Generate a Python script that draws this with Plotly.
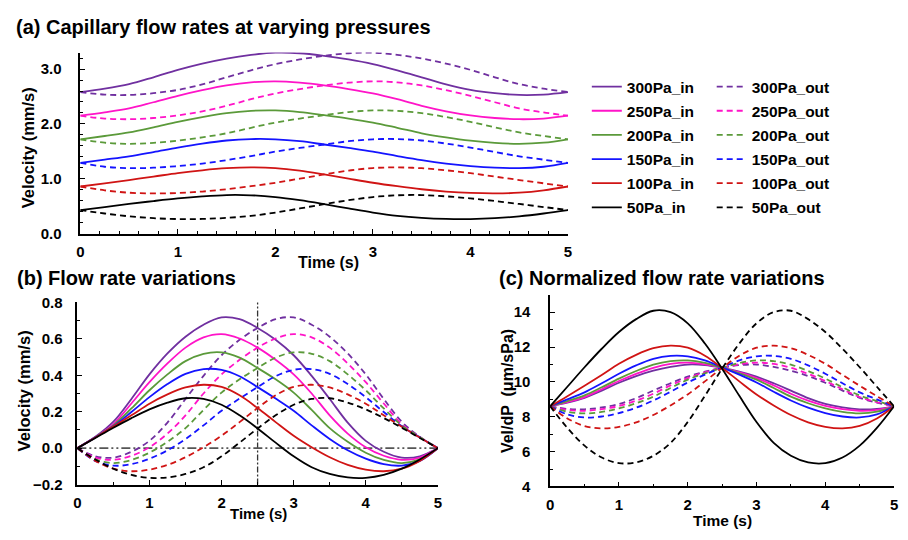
import plotly.graph_objects as go

# ---------------- data ----------------
T = [0, 0.25, 0.5, 0.75, 1, 1.25, 1.5, 1.75, 2, 2.25, 2.5,
     2.75, 3, 3.25, 3.5, 3.75, 4, 4.25, 4.5, 4.75, 5]

LABELS = ["300Pa", "250Pa", "200Pa", "150Pa", "100Pa", "50Pa"]
PRESSURE_PA = [300, 250, 200, 150, 100, 50]
BASE_VEL = [2.58, 2.15, 1.72, 1.29, 0.86, 0.43]   # mm/s at t=0

# flow-rate variation (panel b), inlet (mm/s)
VAR_IN_300 = [0, .062, .145, .27, .405, .52, .612, .678, .718, .708, .66, .595, .51, .397, .27, .14, .04, -.02, -.052, -.045, 0]
VAR_IN_250 = [0, .06, .132, .245, .362, .465, .552, .608, .626, .602, .552, .485, .405, .30, .18, .08, .005, -.042, -.064, -.052, 0]
VAR_IN_200 = [0, .06, .125, .218, .318, .405, .478, .518, .526, .497, .44, .378, .305, .21, .11, .035, -.025, -.065, -.082, -.062, 0]
VAR_IN_150 = [0, .059, .12, .198, .28, .352, .408, .434, .43, .395, .335, .272, .205, .125, .05, -.012, -.058, -.088, -.096, -.07, 0]
VAR_IN_100 = [0, .058, .118, .18, .244, .295, .333, .348, .336, .29, .22, .143, .068, .005, -.05, -.092, -.118, -.127, -.113, -.07, 0]
VAR_IN_50 = [0, .056, .112, .165, .213, .25, .274, .27, .238, .18, .108, .03, -.045, -.105, -.142, -.161, -.163, -.147, -.113, -.062, 0]

# flow-rate variation (panel b), outlet (mm/s)
VAR_OUT_300 = [0, -.045, -.052, -.02, .04, .14, .27, .397, .51, .595, .66, .708, .718, .678, .612, .52, .405, .27, .145, .062, 0]
VAR_OUT_250 = [0, -.052, -.064, -.042, .005, .08, .18, .30, .405, .485, .552, .602, .626, .608, .552, .465, .362, .245, .132, .06, 0]
VAR_OUT_200 = [0, -.062, -.082, -.065, -.025, .035, .11, .21, .305, .378, .44, .497, .526, .518, .478, .405, .318, .218, .125, .06, 0]
VAR_OUT_150 = [0, -.07, -.096, -.088, -.058, -.012, .05, .125, .205, .272, .335, .395, .43, .434, .408, .352, .28, .198, .12, .059, 0]
VAR_OUT_100 = [0, -.07, -.113, -.127, -.118, -.092, -.05, .005, .068, .143, .22, .29, .336, .348, .333, .295, .244, .18, .118, .058, 0]
VAR_OUT_50 = [0, -.062, -.113, -.147, -.163, -.161, -.142, -.105, -.045, .03, .108, .18, .238, .27, .274, .25, .213, .165, .112, .056, 0]

VAR_IN = [VAR_IN_300, VAR_IN_250, VAR_IN_200, VAR_IN_150, VAR_IN_100, VAR_IN_50]
VAR_OUT = [VAR_OUT_300, VAR_OUT_250, VAR_OUT_200, VAR_OUT_150, VAR_OUT_100, VAR_OUT_50]

REF_T = 2.5      # vertical reference line in (b)
REF_V = 0.0      # horizontal reference line in (b)

# ---------------- style ----------------
COLORS = ["#7030A0", "#FF14C8", "#5B9A3A", "#1414FF", "#D01414", "#000000"]
FONT = "Liberation Sans"
W, H = 908, 540
LW = 1.8
DASH = "6px,4px"


def fx(px):
    return px / W


def fy(py):
    return 1 - py / H


fig = go.Figure()

for i, lab in enumerate(LABELS):
    base = BASE_VEL[i]
    p = PRESSURE_PA[i]
    a_in = [base + v for v in VAR_IN[i]]        # panel (a): velocity = base + variation
    a_out = [base + v for v in VAR_OUT[i]]
    c_in = [1000 * v / p for v in a_in]         # panel (c): velocity / pressure (µm/sPa)
    c_out = [1000 * v / p for v in a_out]
    col = COLORS[i]
    solid = dict(color=col, width=LW, shape="spline", smoothing=1.0)
    dashed = dict(color=col, width=LW, shape="spline", smoothing=1.0, dash=DASH)
    fig.add_trace(go.Scatter(x=T, y=a_in, mode="lines", line=solid, name=lab + "_in",
                             legend="legend", legendgroup="in" + lab, xaxis="x", yaxis="y"))
    fig.add_trace(go.Scatter(x=T, y=a_out, mode="lines", line=dashed, name=lab + "_out",
                             legend="legend2", legendgroup="out" + lab, xaxis="x", yaxis="y"))
    fig.add_trace(go.Scatter(x=T, y=VAR_IN[i], mode="lines", line=solid, showlegend=False,
                             xaxis="x2", yaxis="y2"))
    fig.add_trace(go.Scatter(x=T, y=VAR_OUT[i], mode="lines", line=dashed, showlegend=False,
                             xaxis="x2", yaxis="y2"))
    fig.add_trace(go.Scatter(x=T, y=c_in, mode="lines", line=solid, showlegend=False,
                             xaxis="x3", yaxis="y3"))
    fig.add_trace(go.Scatter(x=T, y=c_out, mode="lines", line=dashed, showlegend=False,
                             xaxis="x3", yaxis="y3"))

# reference lines in (b)
fig.add_shape(type="line", xref="x2", yref="y2 domain", x0=REF_T, x1=REF_T, y0=0, y1=1,
              line=dict(color="#333333", width=1.3, dash="6px,2px,2px,2px"), layer="below")
fig.add_shape(type="line", xref="x2 domain", yref="y2", x0=0, x1=1, y0=REF_V, y1=REF_V,
              line=dict(color="#555555", width=1.6, dash="9px,3px,2px,3px,2px,3px"), layer="below")

tickfont = dict(family=FONT, size=15, color="black", weight="bold")


def axis(domain, rng, dtick, minor, fmt, anchor, tick0, standoff):
    return dict(domain=domain, range=rng, dtick=dtick, tick0=tick0,
                showline=True, linecolor="black", linewidth=1.5,
                ticks="inside", ticklen=5, tickwidth=1.3, tickcolor="black",
                minor=dict(ticks="inside", ticklen=3, tickwidth=1.1, tickcolor="black",
                           dtick=minor, tick0=tick0),
                showgrid=False, zeroline=False, tickfont=tickfont,
                tickformat=fmt, anchor=anchor, fixedrange=True,
                ticklabelstandoff=standoff)


fig.update_layout(
    width=W, height=H, margin=dict(l=0, r=0, t=0, b=0),
    paper_bgcolor="white", plot_bgcolor="white",
    font=dict(family=FONT, color="black"),
    xaxis=axis([fx(77), fx(569)], [0, 5], 1, 0.2, "d", "y", 0, 4),
    yaxis=axis([fy(232), fy(45)], [0, 3.3], 1, 0.2, ".1f", "x", 0, 14),
    xaxis2=axis([fx(74), fx(437.7)], [0, 5], 1, 0.5, "d", "y2", 0, 4),
    yaxis2=axis([fy(491), fy(303)], [-0.2, 0.8], 0.2, 0.1, ".1f", "x2", 0, 10),
    xaxis3=axis([fx(551), fx(898)], [0, 5], 1, 0.5, "d", "y3", 0, 4),
    yaxis3=axis([fy(493), fy(295)], [4, 15], 2, 1, "d", "x3", 4, 15),
    legend=dict(x=fx(588), y=fy(63), xanchor="left", yanchor="top",
                font=dict(family=FONT, size=15.5, color="black", weight="bold"),
                bgcolor="rgba(0,0,0,0)", itemwidth=30, tracegroupgap=1, traceorder="grouped"),
    legend2=dict(x=fx(714), y=fy(63), xanchor="left", yanchor="top",
                 font=dict(family=FONT, size=15.5, color="black", weight="bold"),
                 bgcolor="rgba(0,0,0,0)", itemwidth=30, tracegroupgap=1, traceorder="grouped"),
    showlegend=True,
)

title_font = dict(family=FONT, size=20, color="black", weight="bold")


def afont(size):
    return dict(family=FONT, size=size, color="black", weight="bold")


def ann(text, x, y, font, xanchor="center", angle=0):
    fig.add_annotation(text=text, x=fx(x), y=fy(y), xref="paper", yref="paper",
                       xanchor=xanchor, yanchor="middle", showarrow=False, font=font,
                       textangle=angle)


ann("(a) Capillary flow rates at varying pressures", 10, 19, title_font, "left")
ann("(b) Flow rate variations", 11, 278, title_font, "left")
ann("(c) Normalized flow rate variations", 497, 278, title_font, "left")

ann("Velocity (mm/s)", 25, 143, afont(16.5), angle=-90)
ann("Time (s)", 327, 262, afont(16))
ann("Velocity (mm/s)", 20, 394, afont(16.5), angle=-90)
ann("Time (s)", 257, 521, afont(15))
ann("Vel/dP  (μm/sPa)", 508, 395, afont(16), angle=-90)
ann("Time (s)", 725, 528, afont(15.5))

fig.write_html("out.html", config={"displayModeBar": False},
               post_script="document.body.style.margin='0px';")
